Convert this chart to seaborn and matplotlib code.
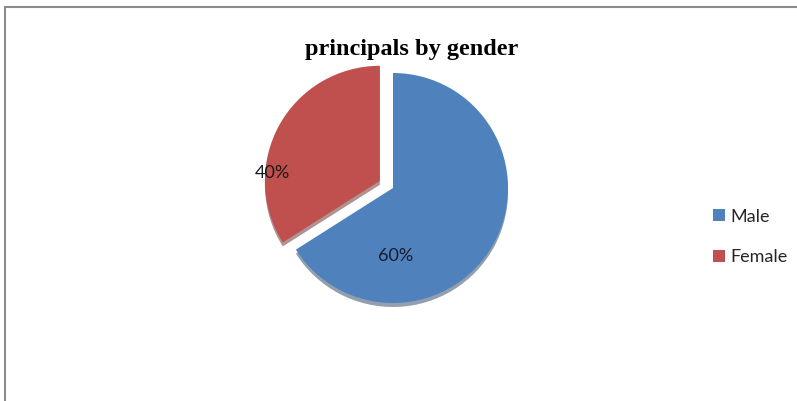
import matplotlib
matplotlib.use("Agg")
import matplotlib.pyplot as plt
import seaborn as sns
from matplotlib.patches import Rectangle

# data
genders = ["Male", "Female"]
shares = [66, 34]              # slice sizes as drawn
pct_labels = ["60%", "40%"]    # labels as printed on the chart
colors = ["#4F81BD", "#C0504D"]

sns.set_theme(style="white")
plt.rcParams['font.family'] = ['Lato', 'DejaVu Sans']

W, H = 797, 401
fig = plt.figure(figsize=(W / 100, H / 100), dpi=100)

# grey frame at top/left, like the cropped chart border
fig.patches.append(Rectangle((5 / W, -0.1), 1.2, 1 - 7 / H + 0.1,
                             transform=fig.transFigure, fill=False,
                             edgecolor="#8c8c8c", linewidth=1.5))

# pie axes: centre ~(393,188) px, radius ~115 px
cx, cy, r = 393, 188, 115
span = 1.5
ax = fig.add_axes([(cx - span * r) / W, 1 - (cy + span * r) / H,
                   2 * span * r / W, 2 * span * r / H])

wedges, _ = ax.pie(shares, colors=colors, startangle=90, counterclock=False,
                   explode=[0, 0.13], radius=1,
                   shadow={'ox': 0.0, 'oy': -0.025, 'shade': 0.5},
                   wedgeprops=dict(linewidth=0))
# pie() resets the limits, so set them afterwards
ax.set_xlim(-span, span)
ax.set_ylim(-span, span)
ax.axis("off")

ax.text(0.02, -0.59, pct_labels[0], ha="center", va="center",
        fontsize=13, color="#1a1a2e")
ax.text(-1.05, 0.13, pct_labels[1], ha="center", va="center",
        fontsize=13, color="#1a1a1a")

fig.text(412 / W, 1 - 50 / H, "principals by gender", ha="center", va="center",
         fontsize=17.5, fontweight="bold", color="black",
         family=["Liberation Serif", "DejaVu Serif"])

fig.legend(wedges, genders, loc="center left", bbox_to_anchor=(704 / W, 1 - 237 / H),
           frameon=False, fontsize=13, handlelength=0.65, handleheight=0.65,
           labelspacing=1.35, handletextpad=0.3, borderpad=0)

fig.savefig("out.png", dpi=100)
